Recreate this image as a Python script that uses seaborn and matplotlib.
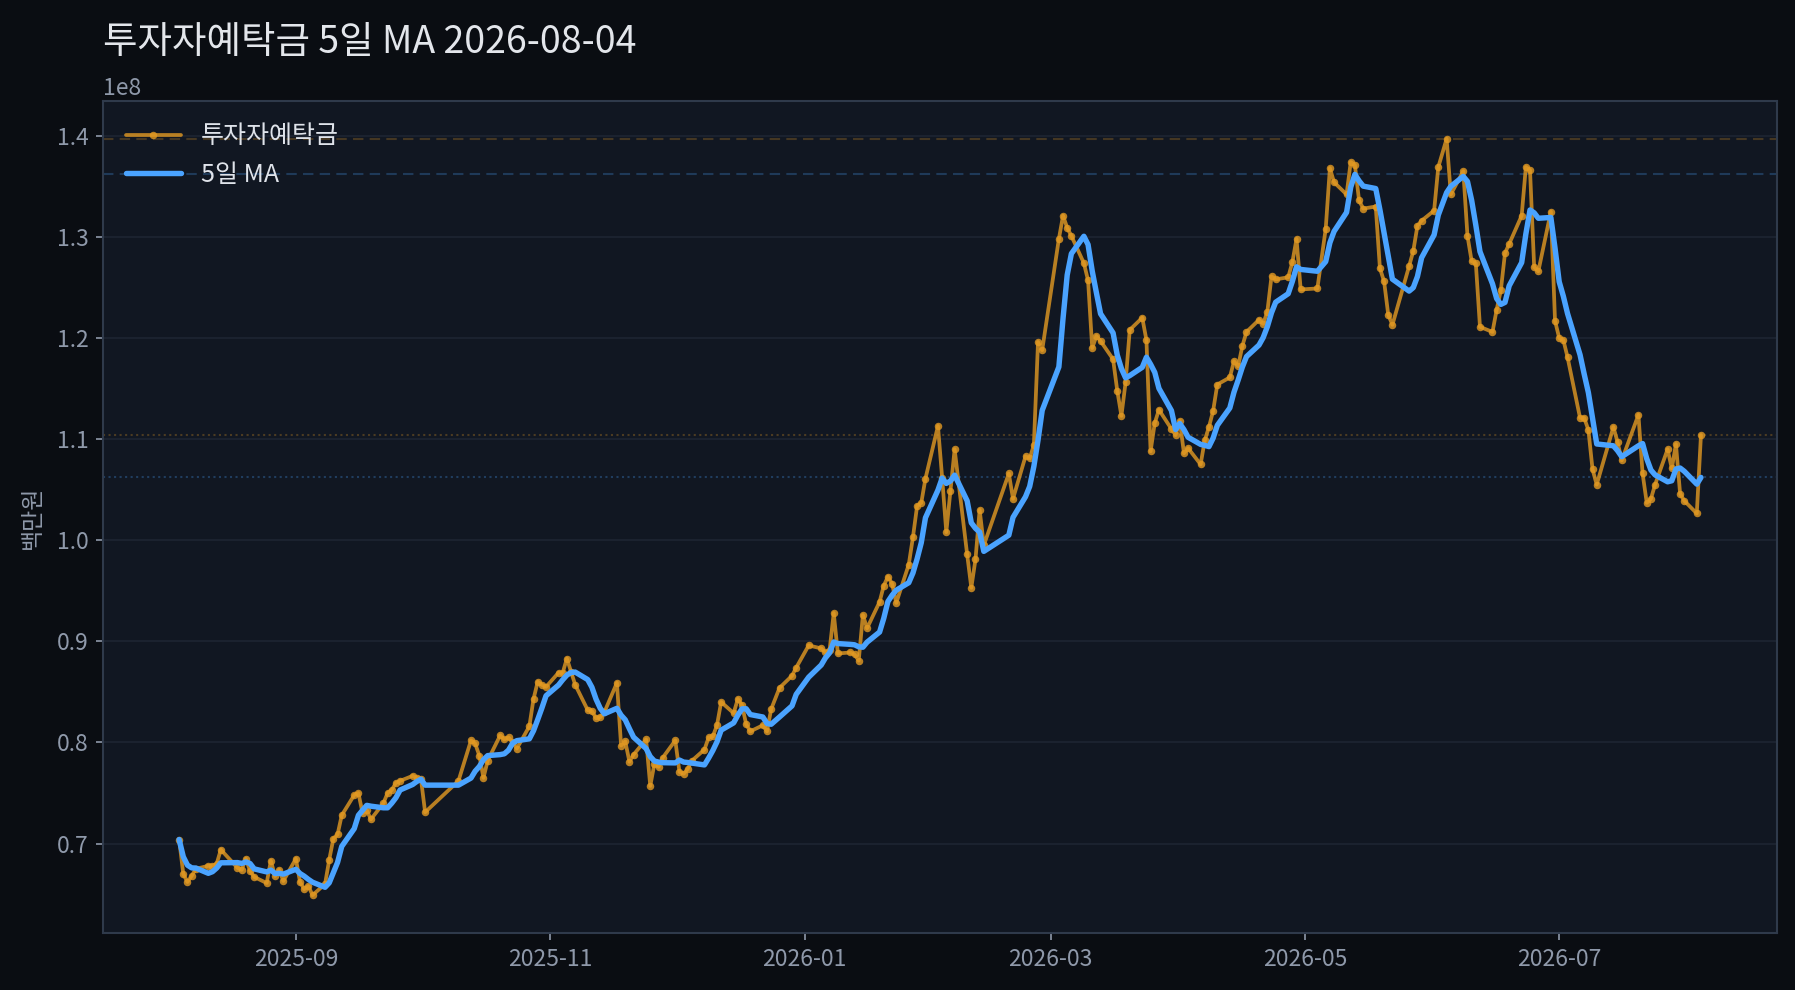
import matplotlib

matplotlib.use("Agg")
import matplotlib.dates as mdates
import matplotlib.pyplot as plt
import numpy as np
import pandas as pd
import seaborn as sns

###############
# PLOT CONFIG #
###############
FIG_BG = "#0a0d12"
AX_BG = "#111722"
SPINE_COLOR = "#2f3a4b"
GRID_COLOR = "#1c2330"
TICK_COLOR = "#8f99aa"
TITLE_COLOR = "#e3e6eb"
ORANGE = "#e39a22"
BLUE = "#4aa3ff"
DPI = 150
FIGSIZE = (1795 / DPI, 990 / DPI)
FONT = ["Noto Sans CJK KR", "DejaVu Sans"]

TITLE = "투자자예탁금 5일 MA 2026-08-04"
SERIES_LABEL = "투자자예탁금"
MA_LABEL = "5일 MA"
Y_LABEL = "백만원"

# market closed days inside the range
HOLIDAYS = [
    "2025-08-15", "2025-10-03", "2025-10-06", "2025-10-07", "2025-10-08",
    "2025-10-09", "2025-12-25", "2025-12-31", "2026-01-01", "2026-02-16",
    "2026-02-17", "2026-02-18", "2026-03-02", "2026-05-01", "2026-05-05",
    "2026-05-25", "2026-06-03", "2026-07-13", "2026-07-17",
]

# daily values, unit 1e8 (백만원), one list per month
aug25 = [0.704, 0.670, 0.662, 0.668, 0.675, 0.678, 0.678, 0.680, 0.694,
         0.676, 0.674, 0.685, 0.673, 0.667, 0.661, 0.683, 0.668, 0.674, 0.663]
sep25 = [0.685, 0.662, 0.655, 0.658, 0.649, 0.660, 0.684, 0.705, 0.709, 0.728,
         0.748, 0.750, 0.730, 0.733, 0.724, 0.740, 0.750, 0.753, 0.760, 0.762,
         0.767, 0.765]
oct25 = [0.764, 0.731, 0.762, 0.802, 0.799, 0.787, 0.765, 0.782,
         0.807, 0.803, 0.805, 0.800, 0.794, 0.816, 0.843, 0.860, 0.857, 0.855]
nov25 = [0.869, 0.869, 0.883, 0.870, 0.857, 0.832, 0.831, 0.824, 0.825, 0.830,
         0.859, 0.797, 0.801, 0.781, 0.788, 0.803, 0.757, 0.779, 0.776, 0.785]
dec25 = [0.802, 0.771, 0.769, 0.774, 0.782, 0.793, 0.805, 0.806, 0.817, 0.840,
         0.829, 0.843, 0.837, 0.818, 0.811, 0.817, 0.811, 0.833, 0.854,
         0.866, 0.874]
jan26 = [0.896, 0.893, 0.889, 0.891, 0.928, 0.888, 0.889, 0.887, 0.881, 0.926,
         0.913, 0.939, 0.955, 0.964, 0.957, 0.938, 0.976, 1.003, 1.034, 1.037,
         1.061]
feb26 = [1.113, 1.062, 1.008, 1.049, 1.090, 0.986, 0.953, 0.981, 1.030, 0.995,
         1.066, 1.041, 1.083, 1.081, 1.094, 1.196, 1.188]
mar26 = [1.298, 1.321, 1.309, 1.301, 1.274, 1.257, 1.190, 1.202, 1.197,
         1.179, 1.148, 1.123, 1.156, 1.208, 1.220, 1.198, 1.088, 1.116, 1.129,
         1.110, 1.104]
apr26 = [1.118, 1.086, 1.091, 1.075, 1.099, 1.112, 1.128, 1.154,
         1.161, 1.177, 1.172, 1.192, 1.206, 1.218, 1.214, 1.226, 1.261, 1.258,
         1.260, 1.275, 1.298, 1.248]
may26 = [1.249, 1.308, 1.368, 1.354, 1.342, 1.374, 1.371, 1.336, 1.328,
         1.330, 1.269, 1.256, 1.223, 1.213, 1.271, 1.286, 1.311, 1.316]
jun26 = [1.326, 1.369, 1.397, 1.342, 1.365, 1.301, 1.276, 1.274, 1.211,
         1.206, 1.228, 1.247, 1.284, 1.293, 1.321, 1.369, 1.366, 1.270, 1.266,
         1.325, 1.217]
jul26 = [1.200, 1.198, 1.181, 1.121, 1.121, 1.109, 1.070, 1.055,
         1.112, 1.097, 1.079, 1.124, 1.066, 1.037, 1.041, 1.055,
         1.090, 1.071, 1.095, 1.046, 1.039]
aug26 = [1.0265, 1.104]

MONTHS = [
    ("2025-08", aug25), ("2025-09", sep25), ("2025-10", oct25),
    ("2025-11", nov25), ("2025-12", dec25), ("2026-01", jan26),
    ("2026-02", feb26), ("2026-03", mar26), ("2026-04", apr26),
    ("2026-05", may26), ("2026-06", jun26), ("2026-07", jul26),
    ("2026-08", aug26),
]
START, END = "2025-08-04", "2026-08-04"


def build_frame():
    days = pd.bdate_range(START, END)
    days = days[~days.isin(pd.to_datetime(HOLIDAYS))]
    frames = []
    for month, values in MONTHS:
        month_days = days[days.strftime("%Y-%m") == month]
        assert len(month_days) == len(values), (month, len(month_days), len(values))
        frames.append(pd.DataFrame({"date": month_days, "value": np.array(values) * 1e8}))
    df = pd.concat(frames, ignore_index=True)
    df["ma5"] = df["value"].rolling(5, min_periods=1).mean()
    return df


df = build_frame()

sns.set_theme(style="dark")
plt.rcParams["font.family"] = FONT
plt.rcParams["axes.unicode_minus"] = False

fig, ax = plt.subplots(figsize=FIGSIZE, dpi=DPI)
fig.patch.set_facecolor(FIG_BG)
ax.set_facecolor(AX_BG)
fig.subplots_adjust(left=0.0574, right=0.990, top=0.898, bottom=0.0576)

# reference lines: max and last value of each series
ax.axhline(df["value"].max(), color=ORANGE, ls=(0, (5, 3)), lw=1.0, alpha=0.25, zorder=1)
ax.axhline(df["ma5"].max(), color=BLUE, ls=(0, (5, 3)), lw=1.0, alpha=0.25, zorder=1)
ax.axhline(df["value"].iloc[-1], color=ORANGE, ls=":", lw=1.0, alpha=0.28, zorder=1)
ax.axhline(df["ma5"].iloc[-1], color=BLUE, ls=":", lw=1.0, alpha=0.28, zorder=1)

sns.lineplot(
    data=df, x="date", y="value", ax=ax, color=ORANGE, lw=1.8, alpha=0.8,
    marker="o", markersize=3.6, markeredgewidth=0, label=SERIES_LABEL, zorder=3,
)
sns.lineplot(
    data=df, x="date", y="ma5", ax=ax, color=BLUE, lw=2.6, label=MA_LABEL, zorder=4,
)

ax.xaxis.set_major_locator(mdates.MonthLocator(bymonth=[1, 3, 5, 7, 9, 11]))
ax.xaxis.set_major_formatter(mdates.DateFormatter("%Y-%m"))
ax.set_yticks(np.arange(0.7, 1.45, 0.1) * 1e8)
ax.margins(x=0.05, y=0.05)

ax.yaxis.grid(True, color=GRID_COLOR, lw=0.9)
ax.xaxis.grid(False)
for spine in ax.spines.values():
    spine.set_visible(True)
    spine.set_color(SPINE_COLOR)
    spine.set_linewidth(1.0)

ax.tick_params(axis="both", colors=TICK_COLOR, labelsize=11, length=3.5, width=0.8,
               left=True, bottom=True)
ax.yaxis.get_offset_text().set_color(TICK_COLOR)
ax.yaxis.get_offset_text().set_fontsize(11)
ax.set_xlabel("")
ax.set_ylabel(Y_LABEL, color=TICK_COLOR, fontsize=11)
ax.yaxis.set_label_coords(-0.0355, 0.5)

leg = ax.legend(loc="upper left", frameon=False, fontsize=12, labelcolor="#dfe3ea",
                handlelength=2.2)

fig.text(0.0574, 1 - 53 / 990, TITLE, ha="left", va="baseline", fontsize=18,
         color=TITLE_COLOR)

fig.savefig("out.png", dpi=DPI, facecolor=FIG_BG)
